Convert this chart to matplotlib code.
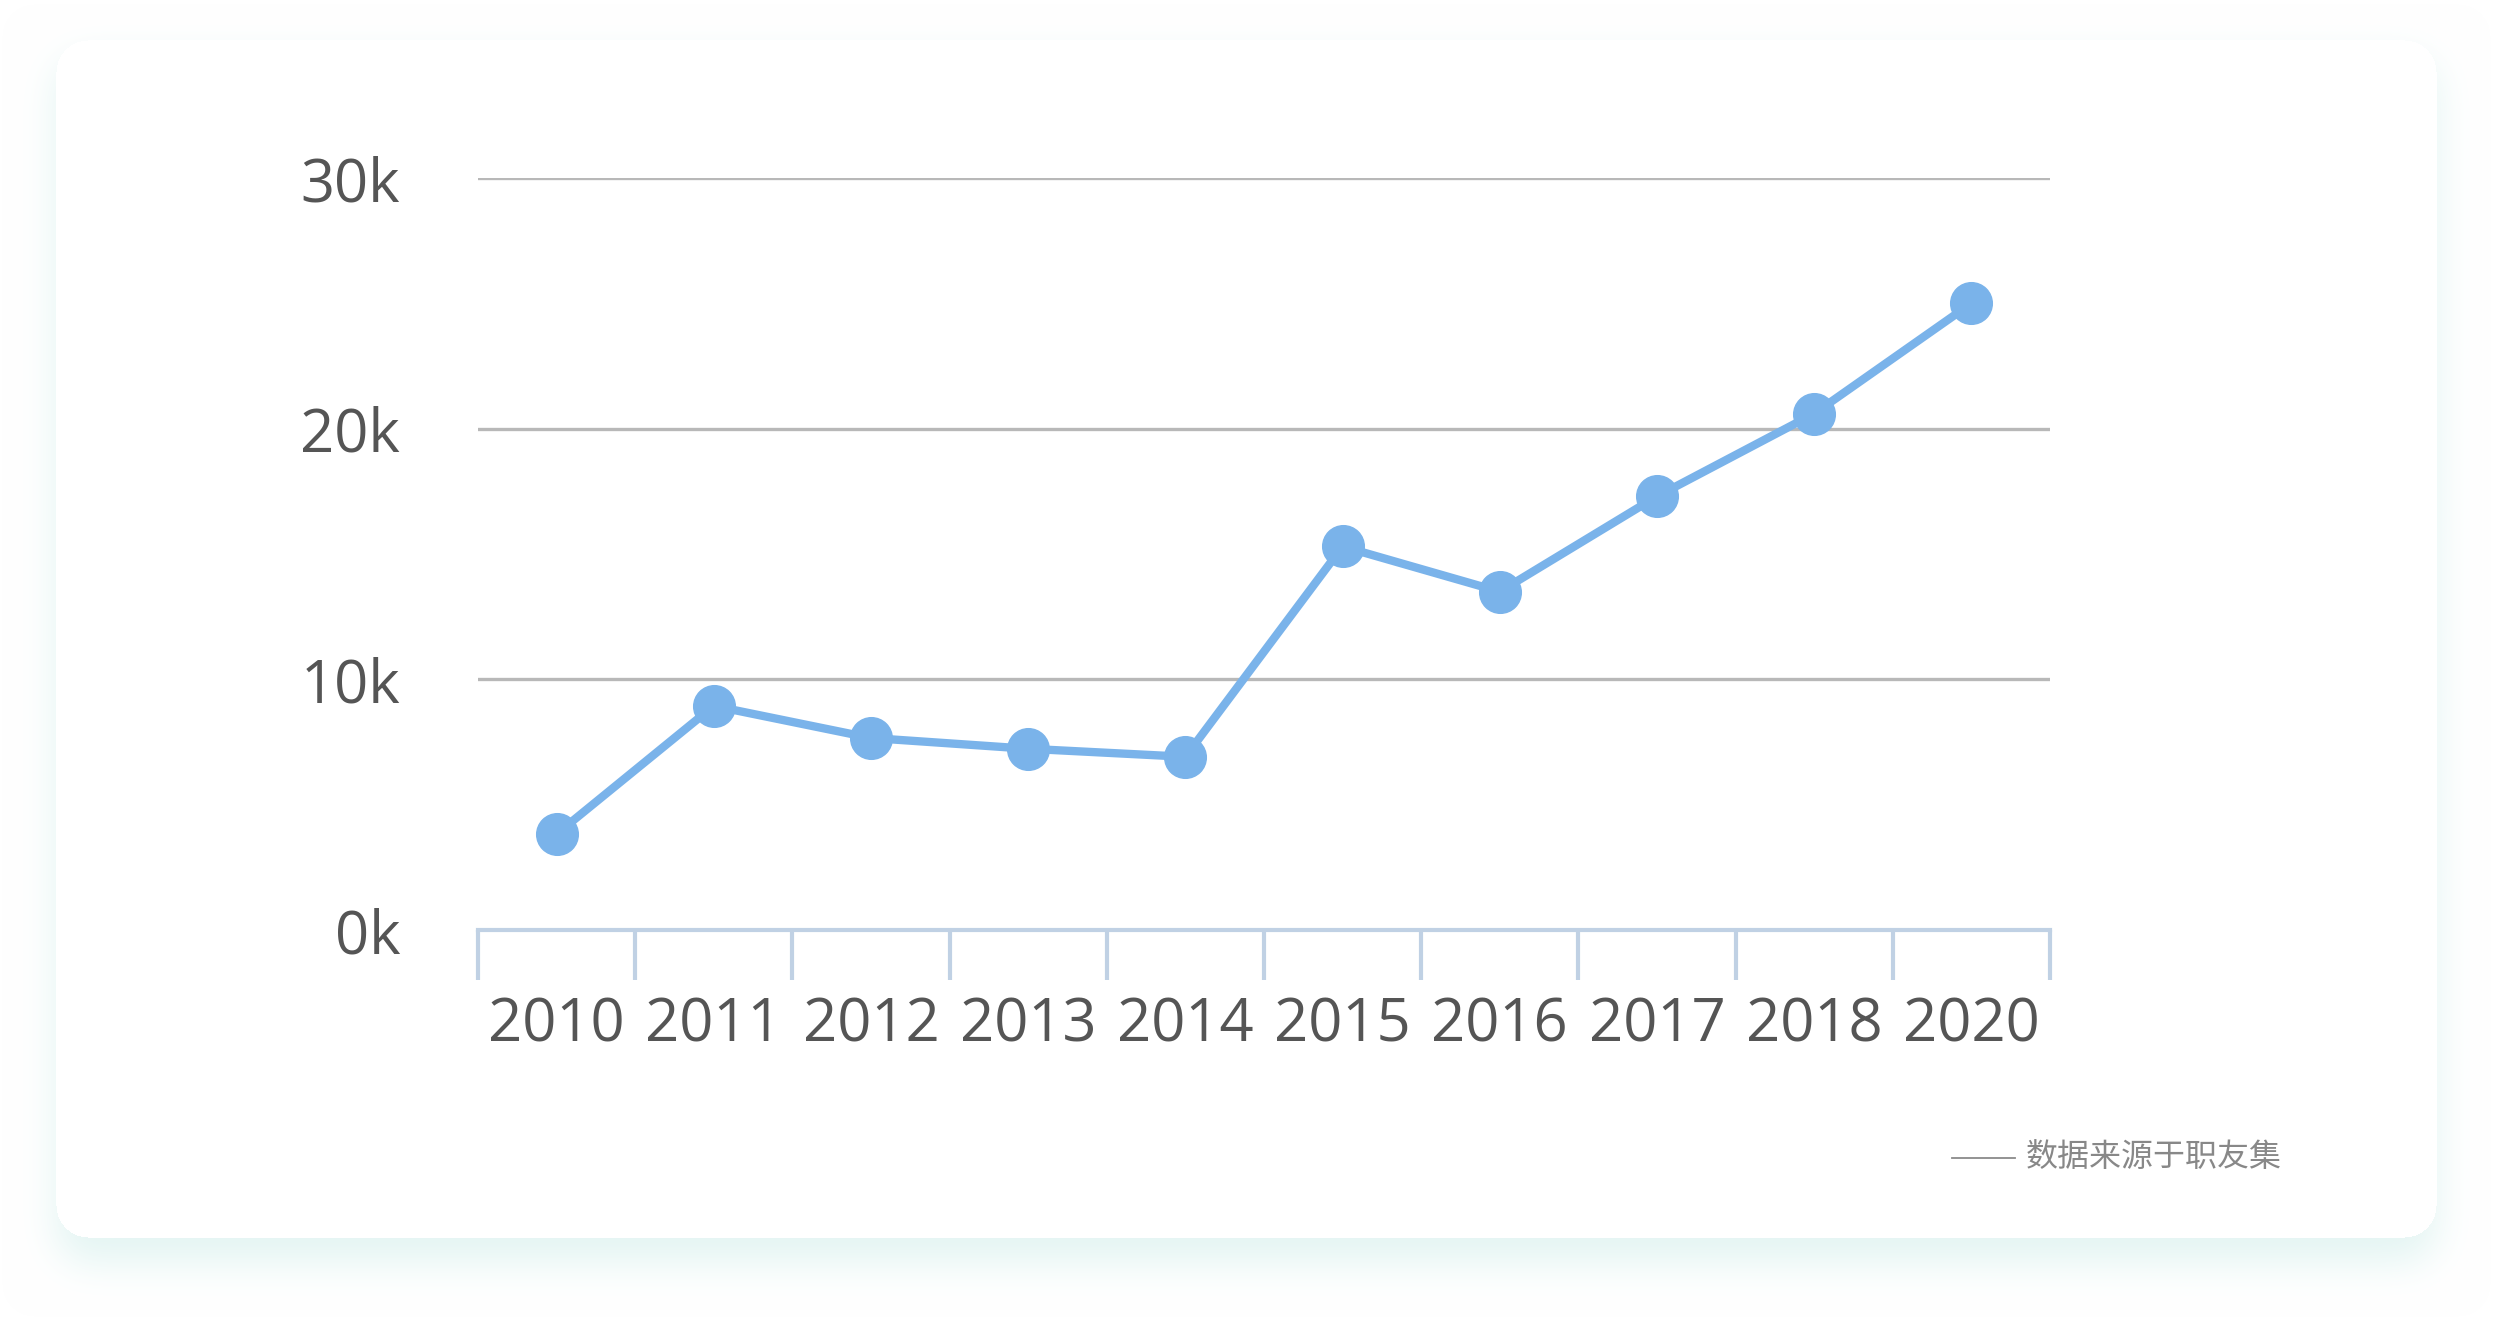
import matplotlib
matplotlib.use("Agg")
import matplotlib.pyplot as plt
from matplotlib.lines import Line2D
import numpy as np

# data
years = ["2010", "2011", "2012", "2013", "2014", "2015", "2016", "2017", "2018", "2020"]
salary = [3830, 8940, 7660, 7230, 6910, 15300, 13500, 17300, 20600, 25000]
yticks = [0, 10000, 20000, 30000]
source = "数据来源于职友集"

W, H = 2500, 1318
fig = plt.figure(figsize=(W / 100, H / 100), dpi=100)

# card with soft shadow, drawn as an image behind everything
def rounded_mask(x0, y0, x1, y1, r):
    yy, xx = np.mgrid[0:H, 0:W]
    cx = np.clip(xx, x0 + r, x1 - r)
    cy = np.clip(yy, y0 + r, y1 - r)
    return (((xx - cx) ** 2 + (yy - cy) ** 2) <= r * r).astype(float)

def box_blur(a, k):
    for axis in (0, 1):
        c = np.cumsum(np.pad(a, [(k + 1, k) if i == axis else (0, 0) for i in range(2)], mode="edge"), axis=axis)
        if axis == 0:
            a = (c[2 * k + 1:, :] - c[:-2 * k - 1, :]) / (2 * k + 1)
        else:
            a = (c[:, 2 * k + 1:] - c[:, :-2 * k - 1]) / (2 * k + 1)
    return a

card = rounded_mask(56, 40, 2436, 1237, 32)
shadow = rounded_mask(56, 58, 2436, 1262, 32)
for _ in range(3):
    shadow = box_blur(shadow, 18)

white = np.array([1.0, 1.0, 1.0])
tint = np.array([228, 245, 243]) / 255
img = white[None, None, :] * (1 - shadow[..., None]) + tint[None, None, :] * shadow[..., None]
img = img * (1 - card[..., None]) + white * card[..., None]

bg = fig.add_axes([0, 0, 1, 1], zorder=0)
bg.imshow(img, extent=(0, W, H, 0), interpolation="bilinear")
bg.set_xlim(0, W)
bg.set_ylim(H, 0)
bg.axis("off")

# the chart itself
ax = fig.add_axes([478 / W, 1 - 930 / H, (2050 - 478) / W, (930 - 178) / H], zorder=1)
ax.patch.set_alpha(0)

axis_col = "#c0d1e4"
grid_col = "#b8b8b8"
text_col = "#555555"
line_col = "#7ab3ea"

x = np.arange(len(years))
ax.plot(x, salary, color=line_col, lw=6, marker="o", ms=30,
        mfc=line_col, mec=line_col, zorder=3, clip_on=False)

ax.set_xlim(-0.5, len(years) - 0.5)
ax.set_ylim(0, 30000)

for s in ["left", "top", "right"]:
    ax.spines[s].set_visible(False)
ax.spines["bottom"].set_color(axis_col)
ax.spines["bottom"].set_linewidth(3)

ax.set_yticks(yticks)
ax.set_yticklabels([f"{int(v / 1000)}k" for v in yticks])
ax.yaxis.grid(True, color=grid_col, lw=2.4)
ax.set_axisbelow(True)

ax.set_xticks(x)
ax.set_xticklabels(years)
ax.set_xticks(np.arange(-0.5, len(years), 1), minor=True)

ax.tick_params(axis="x", which="major", length=0, pad=47)
ax.tick_params(axis="x", which="minor", length=36, width=3, color=axis_col, direction="out")
ax.tick_params(axis="y", length=0, pad=56)

for lab in ax.get_xticklabels() + ax.get_yticklabels():
    lab.set_family(["Open Sans", "DejaVu Sans"])
    lab.set_fontsize(43)
    lab.set_color(text_col)

# source note: a short rule followed by the text
fig.add_artist(Line2D([1952 / W, 2015 / W], [1 - 1158 / H, 1 - 1158 / H],
                      transform=fig.transFigure, color="#8a8a8a", lw=1.3))
fig.text(2026 / W, 1 - 1157 / H, source, ha="left", va="center",
         fontsize=23, color="#888888", family=["Noto Sans CJK SC", "DejaVu Sans"])

fig.savefig("out.png", dpi=100)
